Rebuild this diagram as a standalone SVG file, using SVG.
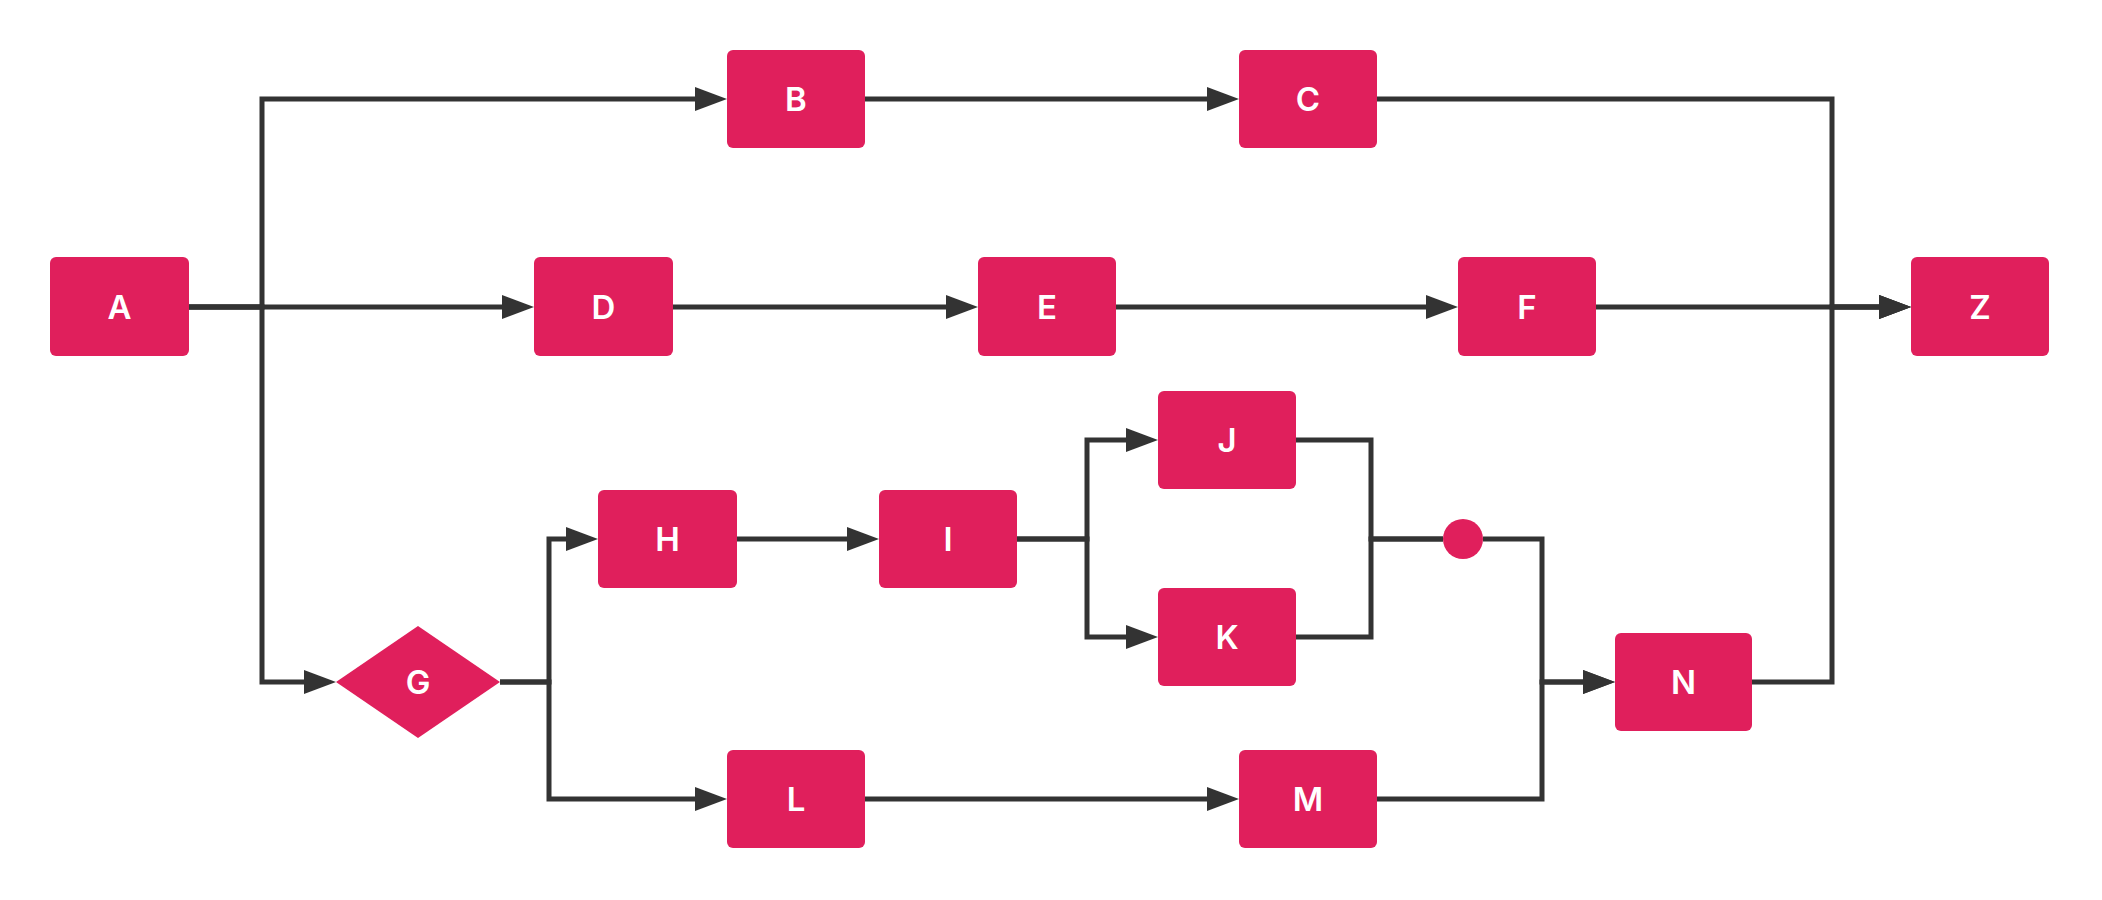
<svg xmlns="http://www.w3.org/2000/svg" width="2102" height="900" viewBox="0 0 2102 900">
<style>
.node{fill:#E01F5C}
.lbl{fill:#FFFFFF;font-family:Inter,"Open Sans","Liberation Sans",sans-serif;font-weight:600;font-size:33px;text-anchor:middle}
.edge{fill:none;stroke:#333333;stroke-width:5;stroke-linejoin:miter}
.arr{marker-end:url(#ah)}
</style>
<defs>
<marker id="ah" markerUnits="userSpaceOnUse" markerWidth="32" markerHeight="24" refX="22" refY="12" orient="auto">
<path d="M0,0 L32,12 L0,24 Z" fill="#333333"/>
</marker>
</defs>
<rect width="2102" height="900" fill="#FFFFFF"/>
<g id="connectors">
<path class="edge arr" d="M189,307 H262 V99 H717"/>
<path class="edge arr" d="M189,307 H524"/>
<path class="edge arr" d="M189,307 H262 V682 H326"/>
<path class="edge arr" d="M865,99 H1229"/>
<path class="edge arr" d="M1377,99 H1832 V307 H1901"/>
<path class="edge arr" d="M673,307 H968"/>
<path class="edge arr" d="M1116,307 H1448"/>
<path class="edge arr" d="M1596,307 H1901"/>
<path class="edge arr" d="M500,682 H549 V539 H588"/>
<path class="edge arr" d="M500,682 H549 V799 H717"/>
<path class="edge arr" d="M737,539 H869"/>
<path class="edge arr" d="M1017,539 H1087 V440 H1148"/>
<path class="edge arr" d="M1017,539 H1087 V637 H1148"/>
<path class="edge" d="M1296,440 H1371 V539 H1443"/>
<path class="edge" d="M1296,637 H1371 V539 H1443"/>
<path class="edge arr" d="M1483,539 H1542 V682 H1605"/>
<path class="edge arr" d="M865,799 H1229"/>
<path class="edge arr" d="M1377,799 H1542 V682 H1605"/>
<path class="edge arr" d="M1752,682 H1832 V307 H1901"/>
</g>
<g id="node-A"><rect class="node" x="50" y="257" width="139" height="99" rx="6"/><text class="lbl" x="119.5" y="319">A</text></g>
<g id="node-B"><rect class="node" x="727" y="50" width="138" height="98" rx="6"/><text class="lbl" x="796" y="111">B</text></g>
<g id="node-C"><rect class="node" x="1239" y="50" width="138" height="98" rx="6"/><text class="lbl" x="1308" y="111">C</text></g>
<g id="node-D"><rect class="node" x="534" y="257" width="139" height="99" rx="6"/><text class="lbl" x="603.5" y="319">D</text></g>
<g id="node-E"><rect class="node" x="978" y="257" width="138" height="99" rx="6"/><text class="lbl" x="1047" y="319">E</text></g>
<g id="node-F"><rect class="node" x="1458" y="257" width="138" height="99" rx="6"/><text class="lbl" x="1527" y="319">F</text></g>
<g id="node-Z"><rect class="node" x="1911" y="257" width="138" height="99" rx="6"/><text class="lbl" x="1980" y="319">Z</text></g>
<g id="node-G"><polygon class="node" points="336,682 418,626 500,682 418,738"/><text class="lbl" x="418" y="694">G</text></g>
<g id="node-H"><rect class="node" x="598" y="490" width="139" height="98" rx="6"/><text class="lbl" x="667.5" y="551">H</text></g>
<g id="node-I"><rect class="node" x="879" y="490" width="138" height="98" rx="6"/><text class="lbl" x="948" y="551">I</text></g>
<g id="node-J"><rect class="node" x="1158" y="391" width="138" height="98" rx="6"/><text class="lbl" x="1227" y="452">J</text></g>
<g id="node-K"><rect class="node" x="1158" y="588" width="138" height="98" rx="6"/><text class="lbl" x="1227" y="649">K</text></g>
<g id="node-join"><circle class="node" cx="1463" cy="539" r="20"/></g>
<g id="node-L"><rect class="node" x="727" y="750" width="138" height="98" rx="6"/><text class="lbl" x="796" y="811">L</text></g>
<g id="node-M"><rect class="node" x="1239" y="750" width="138" height="98" rx="6"/><text class="lbl" x="1308" y="811">M</text></g>
<g id="node-N"><rect class="node" x="1615" y="633" width="137" height="98" rx="6"/><text class="lbl" x="1683.5" y="694">N</text></g>
</svg>
